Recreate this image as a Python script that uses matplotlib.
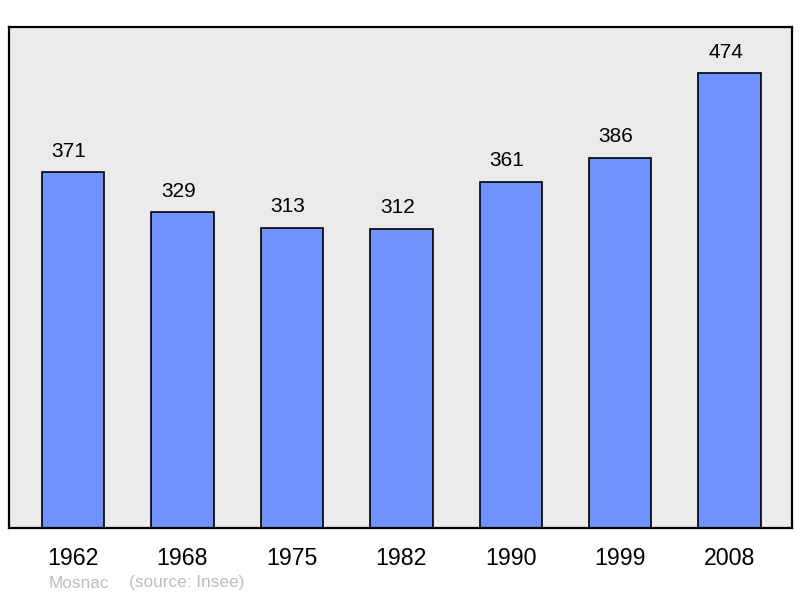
import matplotlib.pyplot as plt

# --- Data ---
years = ['1962', '1968', '1975', '1982', '1990', '1999', '2008']
population = [371, 329, 313, 312, 361, 386, 474]
commune = 'Mosnac'
source = '(source: Insee)'

plt.rcParams['font.family'] = ['Liberation Sans', 'DejaVu Sans']

fig = plt.figure(figsize=(8, 5.98), dpi=100)
ax = fig.add_axes([9 / 800, 70 / 598, 783 / 800, 501 / 598])
ax.set_facecolor('#ebebeb')

positions = range(len(years))
bars = ax.bar(positions, population, width=0.57, color='#7094ff',
              edgecolor='black', linewidth=1.2, zorder=2)

# value labels above each bar (slightly left of centre, as in the original)
for bar, val in zip(bars, population):
    ax.annotate(str(val), (bar.get_x() + bar.get_width() / 2, val),
                xytext=(-3, 15), textcoords='offset points',
                ha='center', va='center', fontsize=15)

ax.set_xlim(-0.585, 6.57)
ax.set_ylim(0, 522)
ax.set_xticks(list(positions))
ax.set_xticklabels(years, fontsize=16.7)
ax.set_yticks([])
ax.tick_params(axis='x', length=0, pad=14)

for spine in ax.spines.values():
    spine.set_linewidth(1.6)
    spine.set_color('black')

fig.text(49 / 800, 1 - 583 / 598, commune, fontsize=12.4,
         color='#bdbdbd', ha='left', va='center')
fig.text(129 / 800, 1 - 583 / 598, source, fontsize=12.4,
         color='#bdbdbd', ha='left', va='center')

plt.savefig('out.png', dpi=100)
